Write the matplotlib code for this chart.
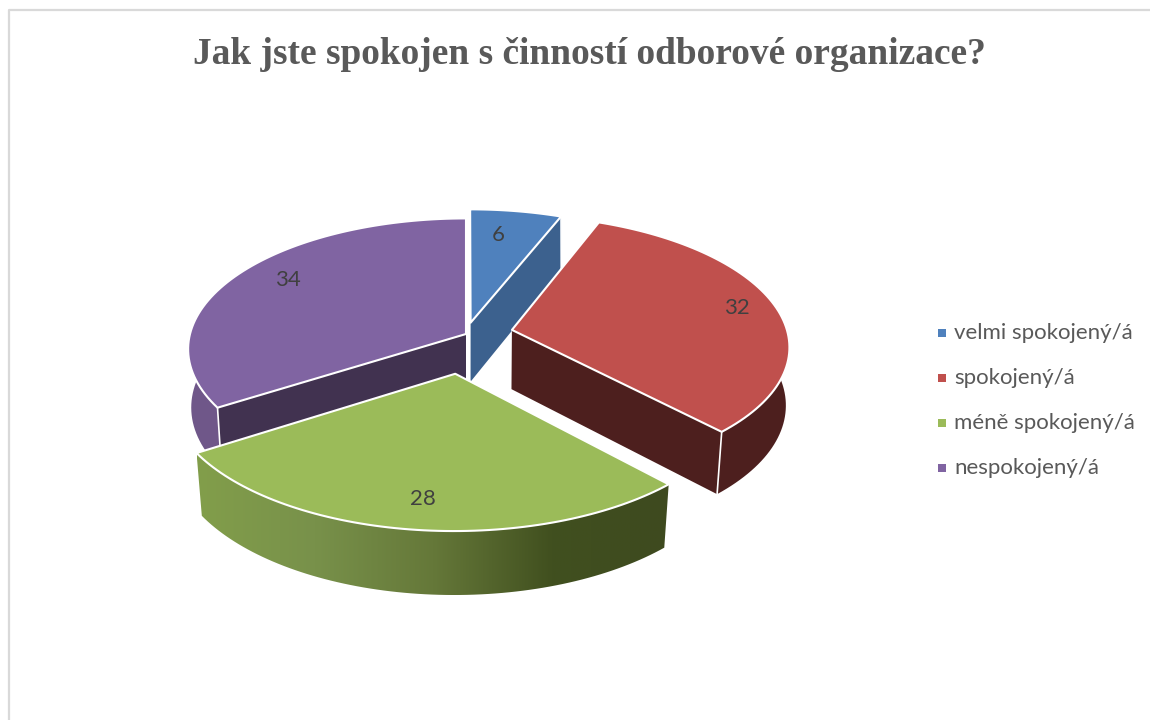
import numpy as np
import matplotlib
matplotlib.use('Agg')
import matplotlib.pyplot as plt
from matplotlib.colors import LinearSegmentedColormap
from matplotlib.patches import Polygon

title = 'Jak jste spokojen s činností odborové organizace?'
categories = ['velmi spokojený/á', 'spokojený/á', 'méně spokojený/á', 'nespokojený/á']
values = [6, 32, 28, 34]

# Slice styling, in category order
explode = [0.09, 0.17, 0.30, 0.0]
top_colors = ['#4F81BD', '#C0504D', '#9BBB59', '#8064A2']
cut_colors = ['#3C618E', '#4D1F1E', None, '#413250']
wall_colors = ['#3C618E', '#4D1F1E', None, '#6F5789']
visible_cut = [-1, -1, None, 0]  # which straight edge of the slice shows a face
label_radius = [0.76, 0.82, 0.80, 0.76]
label_offset = [(-8, -1), (8, -3), (1, 4), (-2, -9)]

# Back slices first, the green one sits in front of everything
draw_order = [0, 1, 3, 2]

# Pie projection settings, all in pixels
cx, cy = 466, 334
sx, sy = 276, 129
persp = 0.116
depth = 60
shrink = 1.01
shrink_tilt = 0.012


def project(u, v, bottom=False):
    # Perspective view of the pie plane, bottom=True gives the lower rim
    w = 1 + persp * v
    if bottom:
        w = w * (shrink - shrink_tilt * v)
        return cx + sx * u / w, cy + (depth - sy * v) / w
    return cx + sx * u / w, cy - sy * v / w


def outline(a0, a1, off_u, off_v, bottom=False):
    t = np.radians(np.linspace(a0, a1, 80))
    return project(off_u + np.sin(t), off_v + np.cos(t), bottom)


fig = plt.figure(figsize=(11.5, 7.2), dpi=100)
ax = fig.add_axes([0, 0, 1, 1])

# Chart frame, open towards the bottom
ax.plot([8.5, 8.5, 1149], [720, 10, 10], color='#D9D9D9', lw=1.6)

ax.text(589, 54.5, title, family='Liberation Serif', weight='bold', fontsize=26.9,
        color='#595959', ha='center', va='center')

angles = np.cumsum([0] + values) * 3.6

z = 2
for i in draw_order:
    a0, a1 = angles[i], angles[i + 1]
    mid = np.radians((a0 + a1) / 2)
    ou, ov = explode[i] * np.sin(mid), explode[i] * np.cos(mid)

    top_x, top_y = outline(a0, a1, ou, ov)
    low_x, low_y = outline(a0, a1, ou, ov, bottom=True)
    apex = project(ou, ov)
    apex_low = project(ou, ov, bottom=True)

    # Outer wall
    wall = np.column_stack([np.r_[top_x, low_x[::-1]], np.r_[top_y, low_y[::-1]]])
    if wall_colors[i] is None:
        patch = Polygon(wall, closed=True, facecolor='none', edgecolor='none', zorder=z)
        ax.add_patch(patch)
        ramp = LinearSegmentedColormap.from_list('side', [
            (0.0, '#829E4B'), (0.25, '#78914A'), (0.5, '#657839'),
            (0.75, '#41501F'), (1.0, '#3E4A1F')])
        img = ax.imshow(np.linspace(0, 1, 256)[None, :], cmap=ramp, aspect='auto', vmin=0, vmax=1,
                        extent=[wall[:, 0].min(), wall[:, 0].max(), wall[:, 1].max(), wall[:, 1].min()],
                        zorder=z)
        img.set_clip_path(patch)
    else:
        ax.add_patch(Polygon(wall, closed=True, facecolor=wall_colors[i], edgecolor='none', zorder=z))

    # Flat cut face, with a white line on its outer corner
    z += 1
    k = visible_cut[i]
    if k is not None:
        face = [apex, (top_x[k], top_y[k]), (low_x[k], low_y[k]), apex_low]
        ax.add_patch(Polygon(face, closed=True, facecolor=cut_colors[i], edgecolor='none', zorder=z))
        ax.plot([top_x[k], low_x[k]], [top_y[k], low_y[k]], color='white', lw=1.2, zorder=z)

    # Top face with its white border
    z += 1
    top = np.column_stack([np.r_[apex[0], top_x], np.r_[apex[1], top_y]])
    ax.add_patch(Polygon(top, closed=True, facecolor=top_colors[i], edgecolor='white',
                         lw=1.5, joinstyle='round', zorder=z))
    z += 1

# Value labels
for i in range(len(values)):
    mid = np.radians((angles[i] + angles[i + 1]) / 2)
    r = explode[i] + label_radius[i]
    lx, ly = project(r * np.sin(mid), r * np.cos(mid))
    ax.text(lx + label_offset[i][0], ly + label_offset[i][1], str(values[i]), family='Lato',
            fontsize=16, color='#404040', ha='center', va='center', zorder=z)

# Legend
for i in range(len(categories)):
    y = 333 + 45 * i
    ax.scatter([941.5], [y], marker='s', s=38, color=top_colors[i], linewidths=0, zorder=z)
    ax.text(954, y, categories[i], family='Lato', fontsize=16, color='#595959', va='center', zorder=z)

ax.set_xlim(0, 1150)
ax.set_ylim(720, 0)
ax.axis('off')

fig.savefig('out.png', dpi=100, facecolor='white')
